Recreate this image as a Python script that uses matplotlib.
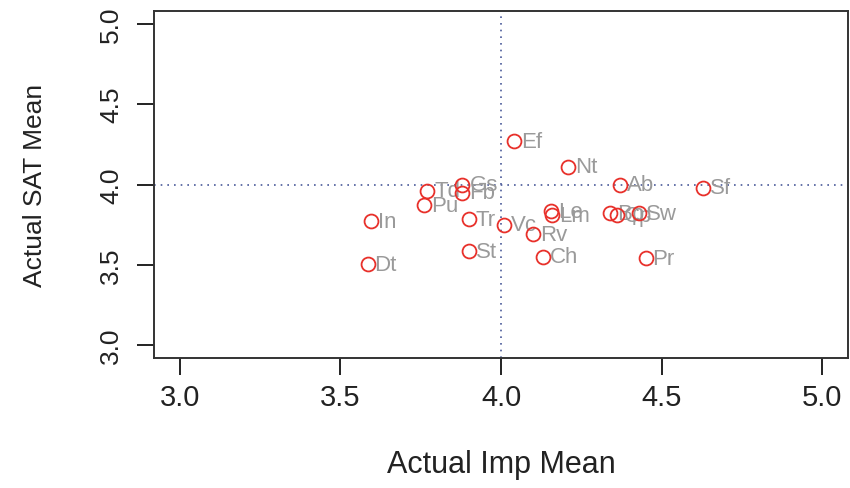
import matplotlib
matplotlib.use("Agg")
import matplotlib.pyplot as plt

labels = ["Ef", "Nt", "Ab", "Sf", "Bp", "Cp", "Sw", "Le", "Lm", "Vc", "Rv",
          "Ch", "Pr", "St", "Tr", "Gs", "Fb", "Td", "Pu", "In", "Dt"]
imp_mean = [4.04, 4.21, 4.37, 4.63, 4.34, 4.36, 4.43, 4.155, 4.16, 4.01, 4.10,
            4.13, 4.45, 3.90, 3.90, 3.88, 3.88, 3.77, 3.76, 3.595, 3.585]
sat_mean = [4.27, 4.11, 4.00, 3.98, 3.82, 3.81, 3.82, 3.835, 3.81, 3.75, 3.69,
            3.55, 3.54, 3.585, 3.785, 4.00, 3.95, 3.96, 3.87, 3.77, 3.505]
ticks = [3.0, 3.5, 4.0, 4.5, 5.0]
tick_labels = ["3.0", "3.5", "4.0", "4.5", "5.0"]

plt.rcParams['font.family'] = ['Liberation Sans', 'DejaVu Sans']

fig = plt.figure(figsize=(8.5, 4.89), dpi=100)
ax = fig.add_axes([154/850, 1-359/489, (848-154)/850, (359-12)/489])

ax.axhline(4.0, color='#4a5a9a', linestyle=(0, (1, 3)), linewidth=1.2, zorder=1)
ax.axvline(4.0, color='#4a5a9a', linestyle=(0, (1, 3)), linewidth=1.2, zorder=1)

ax.plot(imp_mean, sat_mean, linestyle='none', marker='o', markersize=10,
        markerfacecolor='none', markeredgecolor='#e8302a', markeredgewidth=1.3, zorder=3)
for x, y, t in zip(imp_mean, sat_mean, labels):
    ax.annotate(t, (x, y), xytext=(5, 0), textcoords='offset points',
                ha='left', va='center', fontsize=16, color='#9a9a9a', zorder=2)

ax.set_xlim(2.92, 5.08)
ax.set_ylim(2.92, 5.08)
ax.set_xticks(ticks)
ax.set_xticklabels(tick_labels)
ax.set_yticks(ticks)
ax.set_yticklabels(tick_labels, rotation=90, va='center')
ax.tick_params(direction='out', length=12, width=1.4, colors='#222222')
ax.tick_params(axis='x', labelsize=21, pad=6)
ax.tick_params(axis='y', labelsize=19, pad=10)
for s in ax.spines.values():
    s.set_linewidth(1.4)
    s.set_color('#333333')

ax.set_xlabel("Actual Imp Mean", fontsize=22, color='#222222', labelpad=27)
ax.set_ylabel("Actual SAT Mean", fontsize=19, color='#222222', labelpad=38)

fig.savefig("out.png", dpi=100)
